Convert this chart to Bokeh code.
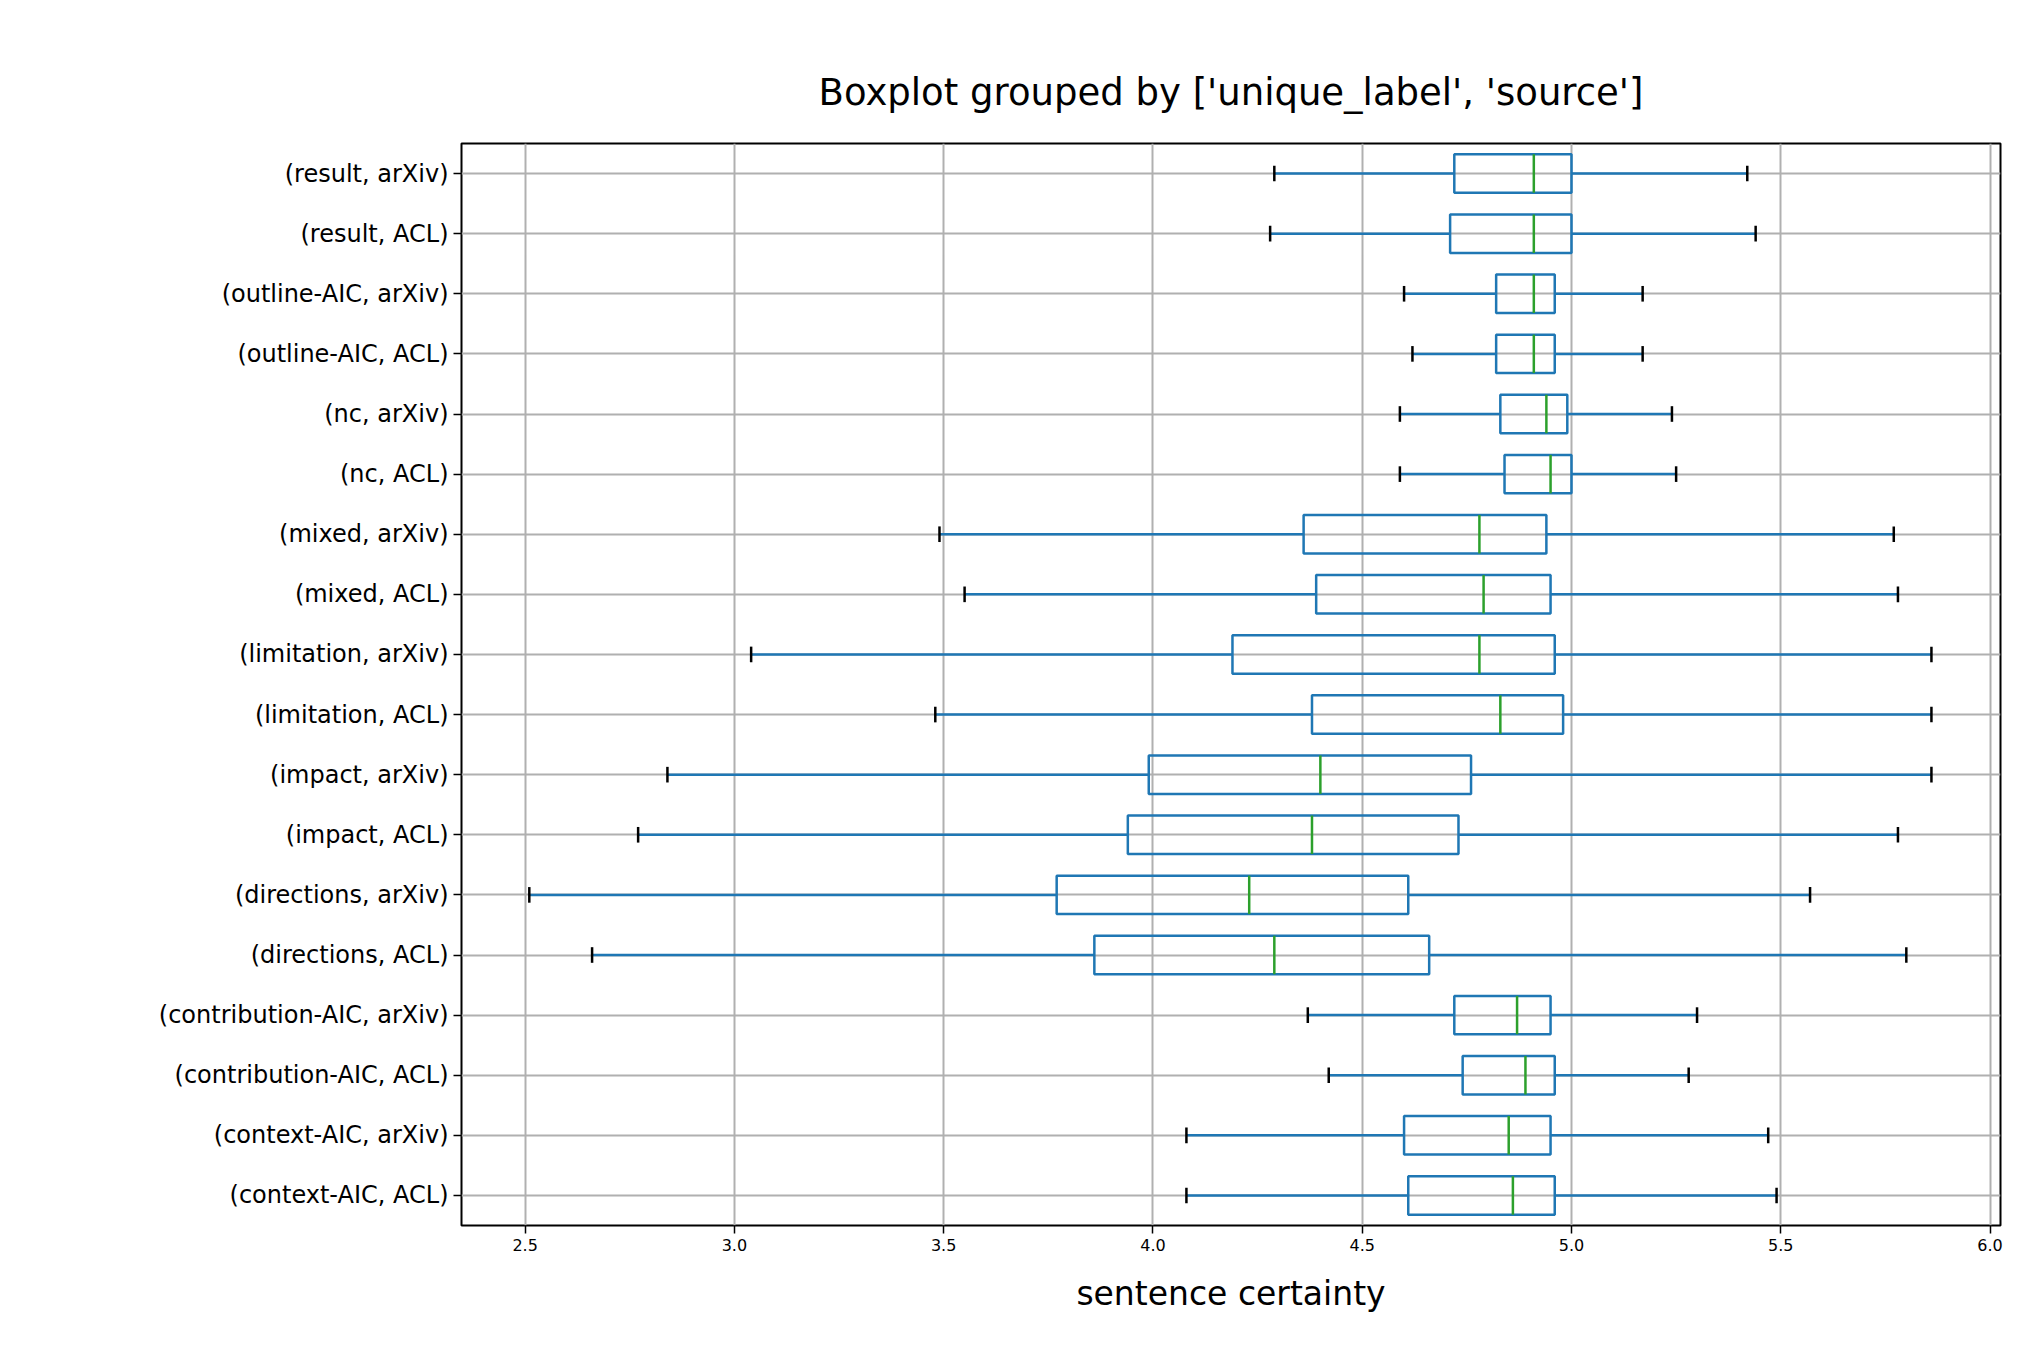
from bokeh.plotting import figure
from bokeh.models import FixedTicker, ColumnDataSource
from bokeh.embed import file_html
from bokeh.resources import INLINE

labels = ["(context-AIC, ACL)", "(context-AIC, arXiv)", "(contribution-AIC, ACL)", "(contribution-AIC, arXiv)",
          "(directions, ACL)", "(directions, arXiv)", "(impact, ACL)", "(impact, arXiv)",
          "(limitation, ACL)", "(limitation, arXiv)", "(mixed, ACL)", "(mixed, arXiv)",
          "(nc, ACL)", "(nc, arXiv)", "(outline-AIC, ACL)", "(outline-AIC, arXiv)",
          "(result, ACL)", "(result, arXiv)"]
low = [4.08, 4.08, 4.42, 4.37, 2.66, 2.51, 2.77, 2.84, 3.48, 3.04, 3.55, 3.49, 4.59, 4.59, 4.62, 4.60, 4.28, 4.29]
q1 = [4.61, 4.60, 4.74, 4.72, 3.86, 3.77, 3.94, 3.99, 4.38, 4.19, 4.39, 4.36, 4.84, 4.83, 4.82, 4.82, 4.71, 4.72]
med = [4.86, 4.85, 4.89, 4.87, 4.29, 4.23, 4.38, 4.40, 4.83, 4.78, 4.79, 4.78, 4.95, 4.94, 4.91, 4.91, 4.91, 4.91]
q3 = [4.96, 4.95, 4.96, 4.95, 4.66, 4.61, 4.73, 4.76, 4.98, 4.96, 4.95, 4.94, 5.00, 4.99, 4.96, 4.96, 5.00, 5.00]
high = [5.49, 5.47, 5.28, 5.30, 5.80, 5.57, 5.78, 5.86, 5.86, 5.86, 5.78, 5.77, 5.25, 5.24, 5.17, 5.17, 5.44, 5.42]
xticks = [2.5, 3.0, 3.5, 4.0, 4.5, 5.0, 5.5, 6.0]

ys = list(range(1, len(labels) + 1))
src = ColumnDataSource(dict(y=ys, low=low, q1=q1, med=med, q3=q3, high=high,
                            yb=[y - 0.13 for y in ys], yt=[y + 0.13 for y in ys],
                            mb=[y - 0.32 for y in ys], mt=[y + 0.32 for y in ys]))

p = figure(width=2020, height=1345, output_backend="svg", toolbar_location=None,
           x_range=(2.348, 6.025), y_range=(0.5, 18.5),
           title="Boxplot grouped by ['unique_label', 'source']",
           min_border_left=461, min_border_right=20, min_border_top=143, min_border_bottom=120)
p.title.text_font = "DejaVu Sans"
p.title.text_font_size = "37px"
p.title.text_font_style = "normal"
p.title.text_color = "black"
p.title.align = "center"
p.title.standoff = 60

blue = "#1f77b4"
p.segment("low", "y", "q1", "y", source=src, line_color=blue, line_width=2.5)
p.segment("q3", "y", "high", "y", source=src, line_color=blue, line_width=2.5)
p.hbar(y="y", left="q1", right="q3", height=0.64, source=src, fill_alpha=0, line_color=blue, line_width=2.5)
p.segment("med", "mb", "med", "mt", source=src, line_color="#2ca02c", line_width=2.5)
p.segment("low", "yb", "low", "yt", source=src, line_color="black", line_width=2.5)
p.segment("high", "yb", "high", "yt", source=src, line_color="black", line_width=2.5)

p.yaxis.ticker = FixedTicker(ticks=ys)
p.yaxis.major_label_overrides = {y: l for y, l in zip(ys, labels)}
p.xaxis.ticker = FixedTicker(ticks=xticks)
p.xaxis.major_label_overrides = {t: f"{t:.1f}" for t in xticks}
p.yaxis.major_label_text_font_size = "24px"
p.xaxis.major_label_text_font_size = "16px"
for ax in (p.xaxis, p.yaxis):
    ax.major_label_text_font = "DejaVu Sans"
    ax.major_label_text_color = "black"
    ax.minor_tick_line_color = None
    ax.axis_line_color = None
    ax.major_tick_line_color = "black"
    ax.major_tick_in = 0
    ax.major_tick_out = 8
    ax.major_tick_line_width = 1.5
p.xaxis.axis_label = "sentence certainty"
p.xaxis.axis_label_text_font = "DejaVu Sans"
p.xaxis.axis_label_text_font_size = "33px"
p.xaxis.axis_label_text_font_style = "normal"
p.xaxis.axis_label_text_color = "black"
p.xaxis.axis_label_standoff = 20
p.xgrid.ticker = FixedTicker(ticks=xticks)
p.grid.grid_line_color = "#b0b0b0"
p.grid.grid_line_width = 2
p.outline_line_color = "black"
p.outline_line_width = 2

open("out.html", "w").write(file_html(p, INLINE))
